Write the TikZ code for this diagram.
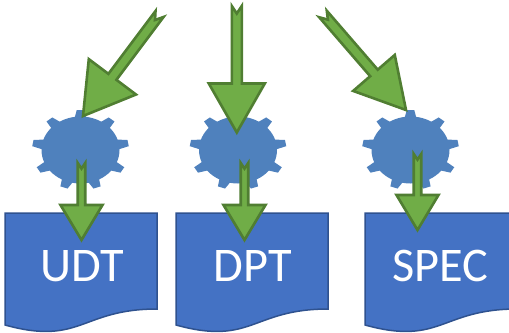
\documentclass[tikz,border=0pt]{standalone}
\usepackage{fontspec}
\setmainfont{Carlito}
\usetikzlibrary{calc}
\definecolor{gearblue}{HTML}{4F81BD}
\definecolor{docblue}{HTML}{4472C4}
\definecolor{docedge}{HTML}{2F528F}
\definecolor{arrowgreen}{HTML}{70AD47}
\definecolor{arrowedge}{HTML}{507E32}
\def\pxu{0.02cm}
\tikzset{
  gearbody/.style={fill=gearblue,draw=none},
  docbody/.style={fill=docblue,draw=docedge,line width=1.5*\pxu},
  doclabel/.style={text=white,font=\fontsize{27.5}{30}\selectfont,inner sep=0pt},
  greenarrow/.style={fill=arrowgreen,draw=arrowedge,line width=2.6*\pxu,miter limit=10},
}
% gear: centre x, centre y, name
\newcommand{\gearshape}[3]{
  \coordinate (#3) at (#1,#2);
  \fill[gearbody] (#3) ellipse [x radius=39*\pxu,y radius=33.5*\pxu];
  \foreach \a in {90,50,...,-230}
    \fill[gearbody]
      ({#1+37*cos(\a+9.5)},{#2-31.5*sin(\a+9.5)}) -- ({#1+48.5*cos(\a+4.5)},{#2-40*sin(\a+4.5)})
      -- ({#1+48.5*cos(\a-4.5)},{#2-40*sin(\a-4.5)}) -- ({#1+37*cos(\a-9.5)},{#2-31.5*sin(\a-9.5)}) -- cycle;
}
% page: left x, right x
\newcommand{\docshape}[2]{
  \draw[docbody] (#1,213) -- (#2,213) -- (#2,309)
    .. controls ({#2-76},309) and ({#1+76},346) .. (#1,325) -- cycle;
}
% arrow: from, to, shaft width, head width, head length
\newcommand{\blockarrow}[5]{
  \draw[greenarrow] ($(#1)!0.5*#3*\pxu!90:(#2)$) -- ($(#1)!#3*0.75*\pxu!(#2)$)
    -- ($(#1)!-0.5*#3*\pxu!90:(#2)$)
    -- ($(#2)!#5*\pxu!(#1)!0.5*#3*\pxu!90:(#1)$)
    -- ($(#2)!#5*\pxu!(#1)!0.5*#4*\pxu!90:(#1)$) -- (#2)
    -- ($(#2)!#5*\pxu!(#1)!-0.5*#4*\pxu!90:(#1)$)
    -- ($(#2)!#5*\pxu!(#1)!-0.5*#3*\pxu!90:(#1)$) -- cycle;
}
\begin{document}
\begin{tikzpicture}[x=\pxu,y=-\pxu]
  \clip (0,0) rectangle (509,332);
  % Pages
  \docshape{5}{157}
  \docshape{176}{328}
  \docshape{365}{517}
  \node[doclabel] (udt) at (82,266) {UDT};
  \node[doclabel] (dpt) at (253,266) {DPT};
  \node[doclabel] (spec) at (440,266) {SPEC};
  % Gears
  \gearshape{80.5}{150}{udtgear}
  \gearshape{238}{150}{dptgear}
  \gearshape{410.5}{150}{specgear}
  % Free ends of the arrows
  \coordinate (udtfrom) at (159.5,14);
  \coordinate (udtinto) at (83,116);
  \coordinate (dptfrom) at (236.8,6);
  \coordinate (dptinto) at (236.8,132.5);
  \coordinate (specfrom) at (323,14);
  \coordinate (specinto) at (406,110);
  \coordinate (udtstart) at (81.5,163);
  \coordinate (udtpage) at (81.5,240);
  \coordinate (dptstart) at (244.5,163);
  \coordinate (dptpage) at (244.5,240);
  \coordinate (specstart) at (417.5,154);
  \coordinate (specpage) at (417.5,230);
  % Arrows
  \blockarrow{udtfrom}{udtinto}{10}{59}{49}
  \blockarrow{dptfrom}{dptinto}{10}{56}{49}
  \blockarrow{specfrom}{specinto}{10}{55}{49}
  \blockarrow{udtstart}{udtpage}{7.5}{42}{35}
  \blockarrow{dptstart}{dptpage}{7.5}{42}{35}
  \blockarrow{specstart}{specpage}{7.5}{42}{35}
\end{tikzpicture}
\end{document}
